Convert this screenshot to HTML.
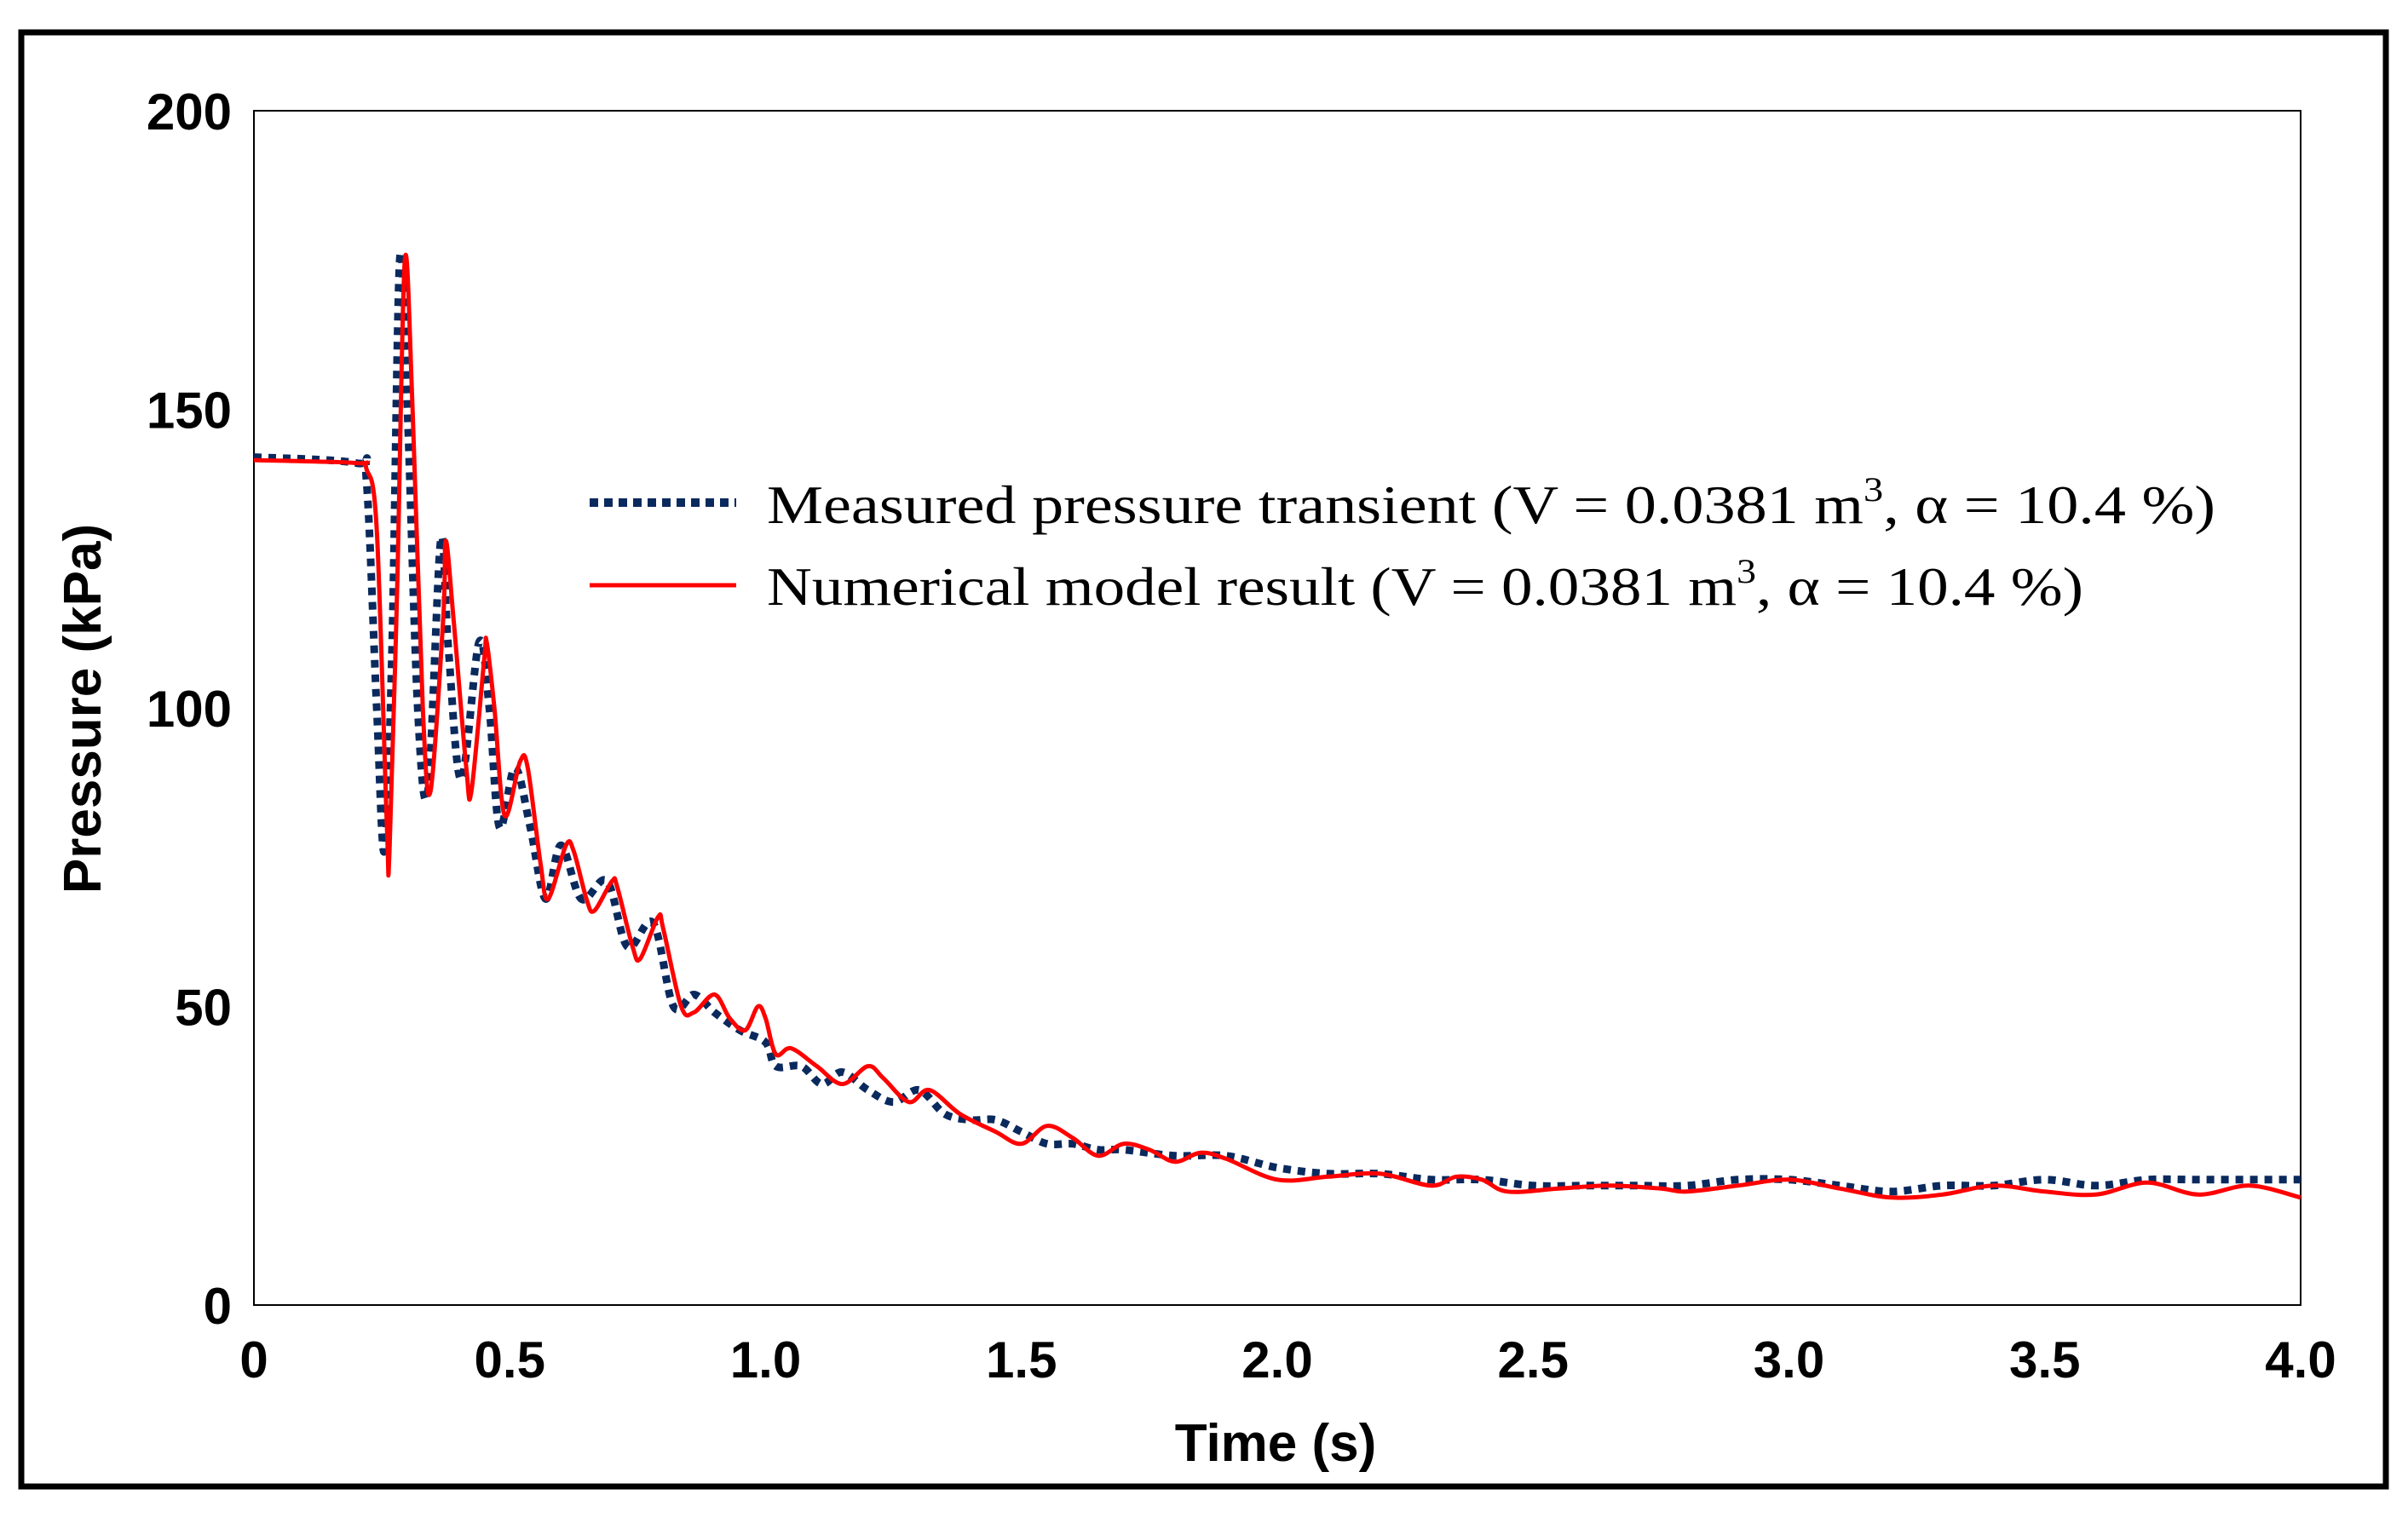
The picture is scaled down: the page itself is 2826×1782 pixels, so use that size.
<!DOCTYPE html>
<html><head><meta charset="utf-8"><style>
html,body{margin:0;padding:0;background:#fff;}
svg{display:block;}
text{font-family:"Liberation Sans",Arial,sans-serif;}
.serif{font-family:"Liberation Serif",serif;}
</style></head><body>
<svg id="chart" width="2826" height="1782" viewBox="0 0 2826 1782" xmlns="http://www.w3.org/2000/svg">
<rect x="25" y="38" width="2775" height="1707" fill="#fff" stroke="#000" stroke-width="7"/>
<rect x="298" y="130" width="2402" height="1402" fill="#fff" stroke="#000" stroke-width="2"/>
<g id="yticks"></g>
<g id="xticks"></g>
<text transform="translate(118,832) rotate(-90)" text-anchor="middle" font-size="62" font-weight="bold">Pressure (kPa)</text>
<text x="1497" y="1715" text-anchor="middle" font-size="62" font-weight="bold">Time (s)</text>
<g id="series"></g>
<g>
<line x1="692" y1="590" x2="864" y2="590" stroke="#0a2a5e" stroke-width="10" stroke-dasharray="10 7"/>
<text class="serif" x="900" y="614" font-size="64" textLength="1700" lengthAdjust="spacingAndGlyphs">Measured pressure transient (V = 0.0381 m<tspan font-size="40" dy="-26">3</tspan><tspan dy="26">, α = 10.4 %)</tspan></text>
<line x1="692" y1="687" x2="864" y2="687" stroke="#ff0000" stroke-width="5"/>
<text class="serif" x="900" y="710" font-size="64" textLength="1545" lengthAdjust="spacingAndGlyphs">Numerical model result (V = 0.0381 m<tspan font-size="40" dy="-26">3</tspan><tspan dy="26">, α = 10.4 %)</tspan></text>
</g>
</svg>
<script>
const yTicks=[0,50,100,150,200];
const xTicks=[0,0.5,1.0,1.5,2.0,2.5,3.0,3.5,4.0];
const xTickLabels=["0","0.5","1.0","1.5","2.0","2.5","3.0","3.5","4.0"];
const measuredT=[0,0.2,0.22,0.24,0.255,0.27,0.285,0.3,0.32,0.34,0.365,0.38,0.405,0.44,0.46,0.48,0.51,0.54,0.57,0.6,0.64,0.69,0.73,0.78,0.82,0.86,0.9,0.95,1.0,1.02,1.07,1.11,1.15,1.2,1.25,1.3,1.35,1.4,1.45,1.5,1.55,1.6,1.65,1.7,1.8,1.9,2.0,2.1,2.2,2.3,2.4,2.5,2.6,2.7,2.8,2.9,3.0,3.1,3.2,3.3,3.4,3.5,3.6,3.7,3.8,3.9,4.0];
const measuredP=[142,141,138,100,76,110,175,150,100,86,128,110,88,111,100,80,90,80,68,77,68,71,60,64,50,52,49,46,44,40,40,37,39,36,34,36,32,31,31,29,27,27,26,26,25,25,23,22,22,21,21,20,20,20,20,21,21,20,19,20,20,21,20,21,21,21,21];
const modelT=[0,0.2,0.22,0.24,0.26,0.265,0.28,0.295,0.31,0.33,0.345,0.37,0.375,0.39,0.415,0.425,0.45,0.455,0.47,0.49,0.52,0.535,0.56,0.575,0.61,0.625,0.65,0.665,0.7,0.71,0.74,0.755,0.79,0.8,0.835,0.86,0.9,0.93,0.96,0.985,1.0,1.02,1.05,1.1,1.15,1.2,1.23,1.28,1.32,1.38,1.45,1.5,1.55,1.6,1.65,1.7,1.75,1.8,1.85,1.9,2.0,2.1,2.2,2.3,2.35,2.4,2.45,2.55,2.65,2.75,2.8,2.9,3.0,3.1,3.2,3.3,3.4,3.5,3.6,3.7,3.8,3.9,4.0];
const modelP=[141.5,141,140,130,80,76,120,175,150,100,86,115,128,115,90,86,108,111,100,82,91,90,74,68,77,76,68,66,71,70,60,58,65,63,50,49,52,48,46,50,48,42,43,40,37,40,38,34,36,32,29,27,30,28,25,27,26,24,25.5,24.5,21,21.5,22,20,21.5,21,19,19.5,20,19.5,19,20,21,19.5,18,18.5,20,19,18.5,20.5,18.5,20,18];
const X0=298,X1=2700,Y0=1532,Y1=130;
const xs=t=>X0+(t/4)*(X1-X0);
const ys=p=>Y0-(p/200)*(Y0-Y1);
const NS="http://www.w3.org/2000/svg";
const yg=document.getElementById('yticks');
yTicks.forEach(v=>{const t=document.createElementNS(NS,'text');


t.setAttribute('x',272);t.setAttribute('y',ys(v)+22);t.setAttribute('text-anchor','end');t.setAttribute('font-size','60');t.setAttribute('font-weight','bold');t.textContent=v;yg.appendChild(t);});
const xg=document.getElementById('xticks');
xTicks.forEach((v,i)=>{const t=document.createElementNS(NS,'text');


t.setAttribute('x',xs(v));t.setAttribute('y',1617);t.setAttribute('text-anchor','middle');t.setAttribute('font-size','60');t.setAttribute('font-weight','bold');t.textContent=xTickLabels[i];xg.appendChild(t);});
function pathD(T,P){
  const pts=T.map((t,i)=>[xs(t),ys(P[i])]);
  let d='M'+pts[0][0].toFixed(1)+','+pts[0][1].toFixed(1);
  for(let i=0;i<pts.length-1;i++){
    const p0=pts[Math.max(0,i-1)],p1=pts[i],p2=pts[i+1],p3=pts[Math.min(pts.length-1,i+2)];
    const k=1/6;
    const c1=[p1[0]+(p2[0]-p0[0])*k,p1[1]+(p2[1]-p0[1])*k];
    const c2=[p2[0]-(p3[0]-p1[0])*k,p2[1]-(p3[1]-p1[1])*k];
    d+=' C'+c1[0].toFixed(1)+','+c1[1].toFixed(1)+' '+c2[0].toFixed(1)+','+c2[1].toFixed(1)+' '+p2[0].toFixed(1)+','+p2[1].toFixed(1);
  }
  return d;
}
const sg=document.getElementById('series');
const me=document.createElementNS(NS,'path');


me.setAttribute('d',pathD(measuredT,measuredP));me.setAttribute('fill','none');me.setAttribute('stroke','#0a2a5e');me.setAttribute('stroke-width','9');me.setAttribute('stroke-dasharray','9 8');me.setAttribute('stroke-linejoin','round');
sg.appendChild(me);
const mp=document.createElementNS(NS,'path');


mp.setAttribute('d',pathD(modelT,modelP));mp.setAttribute('fill','none');mp.setAttribute('stroke','#ff0000');mp.setAttribute('stroke-width','5');mp.setAttribute('stroke-linejoin','round');
sg.appendChild(mp);
</script>
</body></html>
